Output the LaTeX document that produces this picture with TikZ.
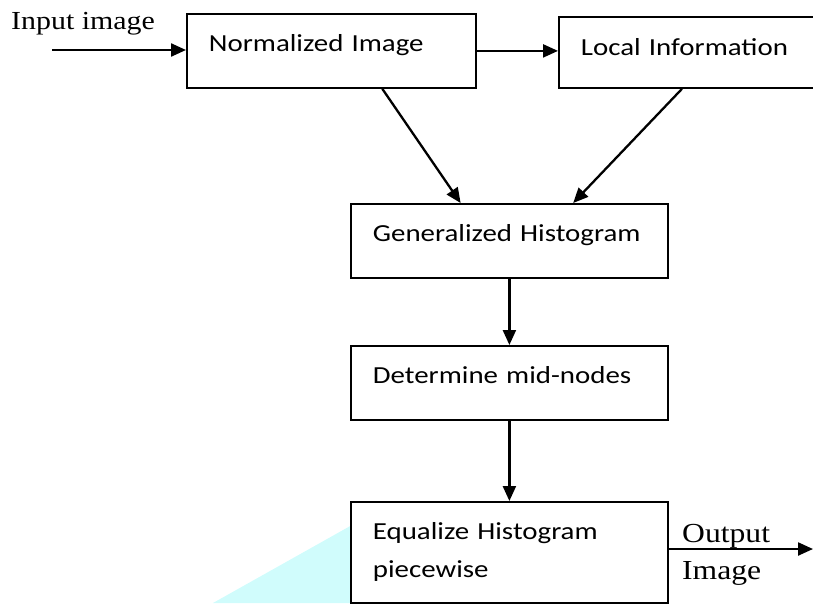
\documentclass[tikz,border=0pt]{standalone}
\usepackage{fontspec}
\usepackage{tikz}
\usetikzlibrary{calc, positioning, arrows.meta}
\newfontfamily\boxfont{Carlito}[FakeStretch=1.18]
\newfontfamily\tagfont{Liberation Serif}[FakeStretch=1.15]
\definecolor{paleaqua}{RGB}{208,252,252}

\tikzset{
	stage/.style={draw, line width=1.8pt, fill=white, anchor=north west,
		inner xsep=22pt, inner ysep=0pt, align=left,
		font=\boxfont\fontsize{24.5}{38}\selectfont, text height=38pt},
	tag/.style={inner sep=0pt, align=left, font=\tagfont\fontsize{26}{37}\selectfont},
	flow/.style={-{Triangle[length=15pt,width=13pt]}, line width=2.3pt},
}

\begin{document}
\begin{tikzpicture}
		[x=1pt, y=-1pt]
		\useasboundingbox (0,0) rectangle (813,603);

		% shading behind the last stage %
		\fill[paleaqua] (213,603) -- (352,525) -- (352,603) -- cycle;

		% nodes %
		\node[stage, text width=245pt, text depth=36pt] (norm) at (186,13) {Normalized Image};
		\node[stage, text width=246pt, text height=39pt, text depth=32pt] (local) at (558,16) {Local Information};
		\node[stage, text width=273pt, text depth=36pt] (gen) at (350,203) {Generalized Histogram};
		\node[stage, text width=273pt, text depth=36pt] (mid) at (350,345) {Determine mid-nodes};
		\node[stage, text width=273pt, text depth=63pt] (equal) at (350,501) {Equalize Histogram\\piecewise};

		\node[tag, anchor=base west] (inlabel) at (11,29) {Input image};
		\node[tag, anchor=north west, font=\tagfont\fontsize{27.5}{37}\selectfont] (outlabel) at (682,524) {Output\\Image};
		\coordinate (inp) at (52,50);
		\coordinate (outp) at (813,549);

		% edges %
		\draw[flow] (inp) -- (inp -| norm.west);
		\draw[flow] (norm.east) -- (norm.east -| local.west);
		\draw[flow] ($(norm.south west)!0.675!(norm.south east)$) -- ($(gen.north west)!0.347!(gen.north east)$);
		\draw[flow] ($(local.south west)+(124,0)$) -- ($(gen.north west)!0.70!(gen.north east)$);
		\draw[flow] (gen) -- (mid);
		\draw[flow] (mid) -- (equal);
		\draw[flow] (equal.east |- outp) -- (outp);
		\end{tikzpicture}
\end{document}
